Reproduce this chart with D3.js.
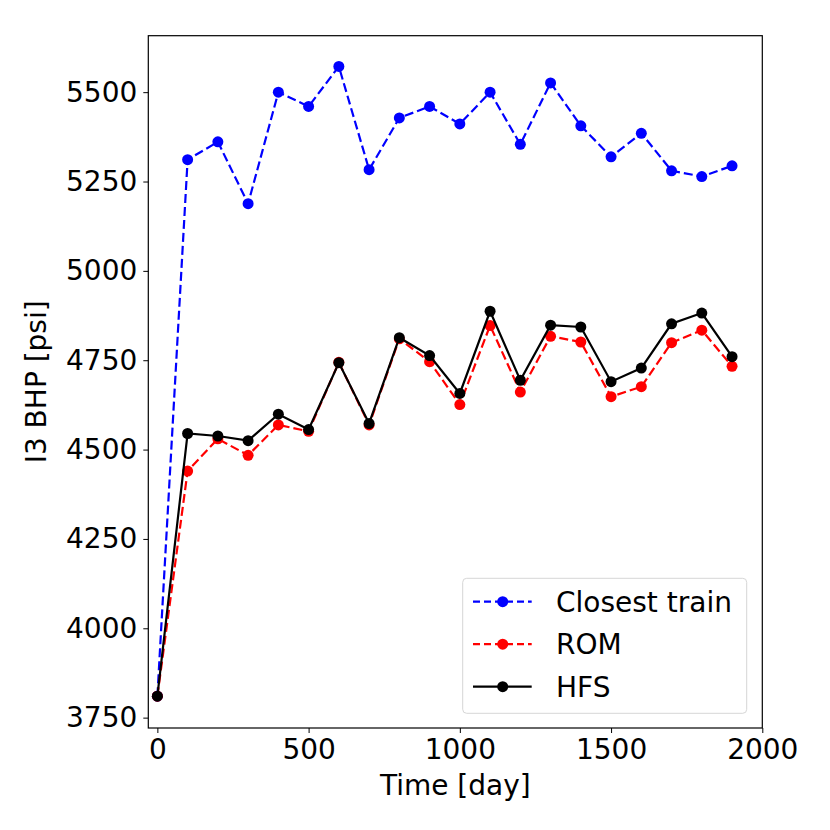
<!DOCTYPE html>
<html>
<head>
<meta charset="utf-8">
<script src="https://cdn.jsdelivr.net/npm/d3@7"></script>
<style>
  body { margin: 0; background: #fff; }
  text { font-family: "DejaVu Sans", sans-serif; }
</style>
</head>
<body>
<svg width="830" height="830"></svg>
<script>
// time steps (days)
var days = [0, 100, 200, 300, 400, 500, 600, 700, 800, 900, 1000, 1100, 1200, 1300, 1400, 1500, 1600, 1700, 1800, 1900];
var closestTrain = [3810, 5311, 5361, 5188, 5500, 5460, 5572, 5283, 5428, 5460, 5411, 5500, 5354, 5526, 5406, 5319, 5385, 5280, 5264, 5294];
var rom = [3810, 4440, 4530, 4484, 4569, 4551, 4744, 4569, 4810, 4746, 4626, 4847, 4661, 4817, 4801, 4648, 4676, 4799, 4834, 4733];
var hfs = [3810, 4545, 4538, 4525, 4599, 4556, 4743, 4573, 4813, 4763, 4657, 4887, 4694, 4848, 4843, 4690, 4728, 4852, 4882, 4760];
var xTicks = [0, 500, 1000, 1500, 2000];
var yTicks = [3750, 4000, 4250, 4500, 4750, 5000, 5250, 5500];

var series = [
    { name: "Closest train", values: closestTrain, color: "#0000ff", dash: "9,4" },
    { name: "ROM", values: rom, color: "#ff0000", dash: "9,4" },
    { name: "HFS", values: hfs, color: "#000000", dash: null }
];

var svg = d3.select("svg");
var plotLeft = 148.3, plotRight = 762.3, plotTop = 35.7, plotBottom = 728;

var x = d3.scaleLinear().domain([-30, 2000]).range([plotLeft, plotRight]);
var y = d3.scaleLinear().domain([3721, 5658]).range([plotBottom, plotTop]);

var font = 28;

// axes
var xAxis = svg.append("g")
    .attr("transform", "translate(0," + plotBottom + ")")
    .call(d3.axisBottom(x).tickValues(xTicks).tickSize(5).tickPadding(6).tickFormat(d3.format("d")));
var yAxis = svg.append("g")
    .attr("transform", "translate(" + plotLeft + ",0)")
    .call(d3.axisLeft(y).tickValues(yTicks).tickSize(5).tickPadding(6).tickFormat(d3.format("d")));
[xAxis, yAxis].forEach(function (a) {
    a.select(".domain").remove();
    a.selectAll(".tick line").attr("stroke", "#000").attr("stroke-width", 1);
    a.selectAll(".tick text").attr("fill", "#000").style("font-size", font + "px");
});

// frame
svg.append("rect")
    .attr("x", plotLeft).attr("y", plotTop)
    .attr("width", plotRight - plotLeft).attr("height", plotBottom - plotTop)
    .attr("fill", "none").attr("stroke", "#000").attr("stroke-width", 1.2);

var line = d3.line()
    .x(function (d, i) { return x(days[i]); })
    .y(function (d) { return y(d); });

series.forEach(function (s) {
    svg.append("path")
        .datum(s.values)
        .attr("d", line)
        .attr("fill", "none")
        .attr("stroke", s.color)
        .attr("stroke-width", 2.2)
        .attr("stroke-dasharray", s.dash);
    svg.append("g").selectAll("circle")
        .data(s.values)
        .enter().append("circle")
        .attr("cx", function (d, i) { return x(days[i]); })
        .attr("cy", function (d) { return y(d); })
        .attr("r", 5.5)
        .attr("fill", s.color);
});

// axis labels
svg.append("text")
    .attr("x", (plotLeft + plotRight) / 2).attr("y", 795)
    .attr("text-anchor", "middle")
    .style("font-size", font + "px")
    .text("Time [day]");
svg.append("text")
    .attr("transform", "translate(46," + (plotTop + plotBottom) / 2 + ") rotate(-90)")
    .attr("text-anchor", "middle")
    .style("font-size", font + "px")
    .text("I3 BHP [psi]");

// legend
var legend = svg.append("g");
legend.append("rect")
    .attr("x", 462.7).attr("y", 578.3)
    .attr("width", 284).attr("height", 135)
    .attr("rx", 4)
    .attr("fill", "#fff").attr("fill-opacity", 0.8)
    .attr("stroke", "#d6d6d6").attr("stroke-width", 1);

var rows = legend.selectAll(".legend")
    .data(series)
    .enter().append("g")
    .attr("class", "legend")
    .attr("transform", function (d, i) { return "translate(0," + (601.7 + i * 42.5) + ")"; });
rows.append("line")
    .attr("x1", 473).attr("x2", 531.7)
    .attr("stroke", function (d) { return d.color; })
    .attr("stroke-width", 2.2)
    .attr("stroke-dasharray", function (d) { return d.dash ? "7,4" : null; });
rows.append("circle")
    .attr("cx", 502.7).attr("r", 5.5)
    .attr("fill", function (d) { return d.color; });
rows.append("text")
    .attr("x", 556).attr("dy", "0.35em")
    .style("font-size", font + "px")
    .text(function (d) { return d.name; });
</script>
</body>
</html>
